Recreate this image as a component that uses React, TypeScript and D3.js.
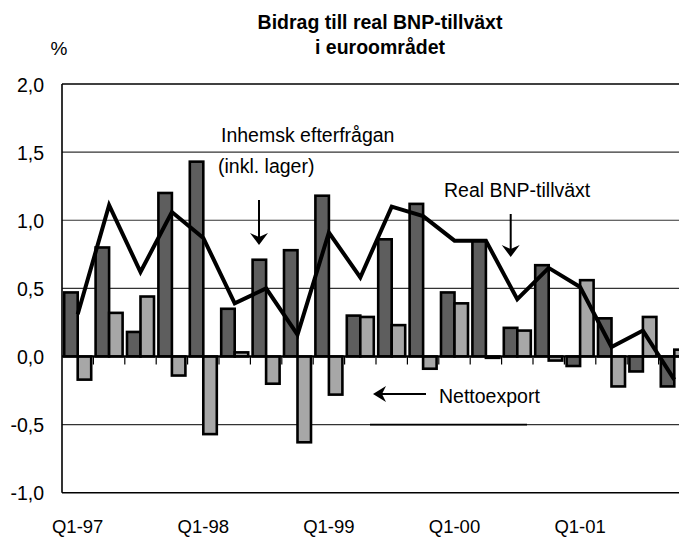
import React from 'react';
import * as d3 from 'd3';

const width = 679;
const height = 537;
const plot = { left: 62, top: 84, bottom: 492.7, step: 31.4 };

const quarters = [
  'Q1-97', 'Q2-97', 'Q3-97', 'Q4-97',
  'Q1-98', 'Q2-98', 'Q3-98', 'Q4-98',
  'Q1-99', 'Q2-99', 'Q3-99', 'Q4-99',
  'Q1-00', 'Q2-00', 'Q3-00', 'Q4-00',
  'Q1-01', 'Q2-01', 'Q3-01', 'Q4-01',
];
const tickLabels = ['Q1-97', 'Q1-98', 'Q1-99', 'Q1-00', 'Q1-01'];
const yTicks = [2.0, 1.5, 1.0, 0.5, 0.0, -0.5, -1.0];

// Inhemsk efterfrågan (inkl. lager)
const domestic = [0.47, 0.80, 0.18, 1.20, 1.43, 0.35, 0.71, 0.78, 1.18, 0.30, 0.86, 1.12, 0.47, 0.85, 0.21, 0.67, -0.07, 0.28, -0.11, -0.22];
// Nettoexport
const netExport = [-0.17, 0.32, 0.44, -0.14, -0.57, 0.03, -0.20, -0.63, -0.28, 0.29, 0.23, -0.09, 0.39, -0.01, 0.19, -0.03, 0.56, -0.22, 0.29, 0.05];
// Real BNP-tillväxt
const gdp = [0.31, 1.11, 0.62, 1.06, 0.87, 0.39, 0.50, 0.16, 0.91, 0.58, 1.10, 1.03, 0.85, 0.85, 0.42, 0.65, 0.51, 0.07, 0.19, -0.17];

const darkFill = '#5e5e5e';
const lightFill = '#a7a7a7';
const font = '"Liberation Sans", Arial, sans-serif';

const fmt = (v: number) => v.toFixed(1).replace('.', ',');

export default function App() {
  const x = d3
    .scaleBand<string>()
    .domain(quarters)
    .range([plot.left, plot.left + quarters.length * plot.step])
    .padding(0);
  const y = d3.scaleLinear().domain([-1, 2]).range([plot.bottom, plot.top]);
  const cx = (q: string) => (x(q) as number) + x.bandwidth() / 2;
  const half = 13.5;
  const y0 = y(0);

  const line = d3
    .line<number>()
    .x((_, i) => cx(quarters[i]))
    .y(d => y(d));

  const arrowDown = (ax: number, y1: number, y2: number) => (
    <g>
      <line x1={ax} x2={ax} y1={y1} y2={y2 - 6} stroke="#000" strokeWidth={2} />
      <path d={`M${ax - 9},${y2 - 12} L${ax},${y2} L${ax + 9},${y2 - 12} L${ax},${y2 - 8} Z`} fill="#000" />
    </g>
  );

  return (
    <svg width={width} height={height} style={{ position: 'absolute', left: 0, top: 0, background: '#fff' }}>
      {/* title */}
      <text x={380} y={29} textAnchor="middle" fontFamily={font} fontWeight="bold" fontSize={19.5}>
        Bidrag till real BNP-tillväxt
      </text>
      <text x={380} y={54} textAnchor="middle" fontFamily={font} fontWeight="bold" fontSize={19.5}>
        i euroområdet
      </text>
      <text x={59} y={55} textAnchor="middle" fontFamily={font} fontSize={19}>%</text>

      {/* grid */}
      {yTicks.filter(t => t !== 0).map(t => (
        <line key={t} x1={plot.left} x2={width} y1={y(t)} y2={y(t)}
          stroke={t === 2 || t === -1 ? '#000' : '#333'} strokeWidth={t === 2 || t === -1 ? 1.6 : 1.2} />
      ))}
      <line x1={370} x2={527} y1={y(-0.5)} y2={y(-0.5)} stroke="#000" strokeWidth={1.6} />
      <line x1={plot.left} x2={plot.left} y1={plot.top} y2={plot.bottom} stroke="#000" strokeWidth={1.6} />

      {yTicks.map(t => (
        <text key={t} x={44} y={y(t) + 7.5} textAnchor="end" fontFamily={font} fontSize={19.5}>
          {fmt(t)}
        </text>
      ))}

      {/* category ticks */}
      {quarters.slice(1).map(q => (
        <line key={q} x1={x(q)} x2={x(q)} y1={y0} y2={y0 + 8} stroke="#000" strokeWidth={1.2} />
      ))}

      {/* bars */}
      {quarters.map((q, i) => (
        <g key={q} stroke="#000" strokeWidth={2.6}>
          <rect x={cx(q) - half} width={half}
            y={Math.min(y(domestic[i]), y0)} height={Math.abs(y(domestic[i]) - y0)} fill={darkFill} />
          <rect x={cx(q)} width={half}
            y={Math.min(y(netExport[i]), y0)} height={Math.abs(y(netExport[i]) - y0)} fill={lightFill} />
        </g>
      ))}

      <line x1={plot.left} x2={width} y1={y0} y2={y0} stroke="#000" strokeWidth={2.2} />

      {/* GDP line */}
      <path d={line(gdp) || ''} fill="none" stroke="#000" strokeWidth={4} strokeLinejoin="miter" />

      {/* annotations */}
      <text x={221} y={142} fontFamily={font} fontSize={19.5}>Inhemsk efterfrågan</text>
      <text x={218} y={173} fontFamily={font} fontSize={19.5}>(inkl. lager)</text>
      {arrowDown(259, 200, 245)}

      <text x={444} y={197} fontFamily={font} fontSize={19.5}>Real BNP-tillväxt</text>
      {arrowDown(510.7, 214, 257)}

      <text x={439} y={403} fontFamily={font} fontSize={19.5}>Nettoexport</text>
      <line x1={380} x2={426} y1={394} y2={394} stroke="#000" strokeWidth={2} />
      <path d="M373,394 L386,386 L382,394 L386,402 Z" fill="#000" />

      {/* x labels */}
      {tickLabels.map(l => (
        <text key={l} x={cx(l)} y={533} textAnchor="middle" fontFamily={font} fontSize={18.5}>
          {l}
        </text>
      ))}
    </svg>
  );
}
